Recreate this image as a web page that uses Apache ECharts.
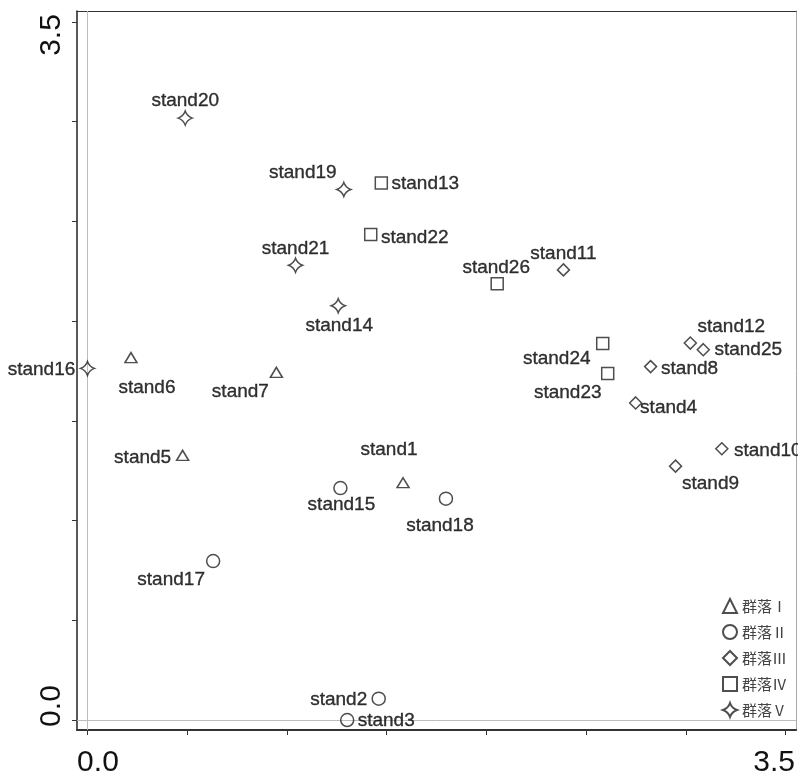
<!DOCTYPE html>
<html>
<head>
<meta charset="utf-8">
<script src="https://cdn.jsdelivr.net/npm/echarts@6/dist/echarts.min.js"></script>
<style>html,body{margin:0;padding:0;background:#fff;}#c{width:798px;height:778px;}</style>
</head>
<body>
<div id="c"></div>
<script>
// ---- data ----
const groupNames = ['群落Ⅰ', '群落Ⅱ', '群落Ⅲ', '群落Ⅳ', '群落Ⅴ'];

const g1Names = ['stand1', 'stand5', 'stand6', 'stand7'];
const g1X = [1.582, 0.477, 0.218, 0.947];
const g1Y = [1.190, 1.327, 1.817, 1.743];

const g2Names = ['stand2', 'stand3', 'stand15', 'stand17', 'stand18'];
const g2X = [1.460, 1.302, 1.268, 0.630, 1.797];
const g2Y = [0.107, 0.000, 1.163, 0.797, 1.110];

const g3Names = ['stand4', 'stand8', 'stand9', 'stand10', 'stand11', 'stand12', 'stand25'];
const g3X = [2.748, 2.823, 2.948, 3.180, 2.386, 3.022, 3.087];
const g3Y = [1.590, 1.772, 1.273, 1.360, 2.257, 1.890, 1.857];

const g4Names = ['stand13', 'stand22', 'stand23', 'stand24', 'stand26'];
const g4X = [1.473, 1.420, 2.608, 2.583, 2.054];
const g4Y = [2.693, 2.435, 1.738, 1.888, 2.188];

const g5Names = ['stand14', 'stand16', 'stand19', 'stand20', 'stand21'];
const g5X = [1.257, 0.000, 1.285, 0.490, 1.043];
const g5Y = [2.077, 1.763, 2.660, 3.018, 2.280];

const tickValues = [0, 0.5, 1, 1.5, 2, 2.5, 3, 3.5];
const tickLabelValues = [0, 3.5];

// ---- styling (label placement relative to point, px) ----
const labelOffsets = {
  stand1: [-14, -33], stand5: [-40, 2], stand6: [16, 30], stand7: [-36, 19],
  stand2: [-40, 1], stand3: [39, 1], stand15: [1, 17], stand17: [-42, 19], stand18: [-6, 27],
  stand4: [33, 5], stand8: [39, 2], stand9: [35, 18], stand10: [46, 2], stand11: [0, -16],
  stand12: [41, -16], stand25: [45, 0],
  stand13: [44, 1], stand22: [44, 3], stand23: [-40, 19], stand24: [-46, 15], stand26: [-1, -16],
  stand14: [1, 20], stand16: [-46, 1], stand19: [-41, -17], stand20: [0, -17], stand21: [0, -17]
};

const starPath = 'path://M0,-10 Q2.6,-2.6 10,0 Q2.6,2.6 0,10 Q-2.6,2.6 -10,0 Q-2.6,-2.6 0,-10 Z';
const symbols = ['triangle', 'circle', 'diamond', 'rect', starPath];
const symbolSizes = [[12, 10], 13, [12, 12], 12, 14];

const groups = [
  [g1Names, g1X, g1Y], [g2Names, g2X, g2Y], [g3Names, g3X, g3Y],
  [g4Names, g4X, g4Y], [g5Names, g5X, g5Y]
];

const strokeColor = '#222';

const series = groups.map(function (g, gi) {
  const names = g[0], xs = g[1], ys = g[2];
  return {
    type: 'scatter',
    name: groupNames[gi],
    symbol: symbols[gi],
    symbolSize: symbolSizes[gi],
    itemStyle: { color: 'rgba(255,255,255,0)', borderColor: strokeColor, borderWidth: 1.5 },
    emphasis: { disabled: true },
    data: names.map(function (n, i) {
      return {
        name: n,
        value: [xs[i], ys[i]],
        label: {
          show: true,
          position: 'inside',
          offset: labelOffsets[n],
          formatter: n,
          color: '#000',
          textBorderWidth: 0.35,
          textBorderColor: '#000',
          fontSize: 19,
          fontFamily: 'Liberation Sans, Arial, sans-serif'
        }
      };
    }),
    z: 5
  };
});

series.push({
  type: 'scatter',
  name: '_ref',
  data: [],
  silent: true,
  markLine: {
    silent: true,
    symbol: ['none', 'none'],
    label: { show: false },
    lineStyle: { color: '#bdbdbd', width: 1, type: 'solid' },
    data: [{ xAxis: 0 }, { yAxis: 0 }],
    z: 1
  }
});

const x0 = 87.5, y0 = 722, ppu = 200;
const gridLeft = 77, gridTop = 11, gridW = 721, gridH = 721;
const xMin = (gridLeft - x0) / ppu, xMax = (gridLeft + gridW - x0) / ppu;
const yMax = (y0 - gridTop) / ppu, yMin = (y0 - (gridTop + gridH)) / ppu;

function fmt(v) { return (Math.round(v * 10) / 10).toFixed(1); }

const chart = echarts.init(document.getElementById('c'), null, { renderer: 'canvas' });
chart.setOption({
  animation: false,
  backgroundColor: '#fff',
  grid: { left: gridLeft, top: gridTop, width: gridW, height: gridH, containLabel: false },
  legend: {
    data: groupNames,
    orient: 'vertical',
    left: 717,
    top: 593,
    itemWidth: 14,
    itemHeight: 14,
    itemGap: 10,
    textStyle: { color: '#444', fontSize: 15, fontFamily: 'Noto Sans CJK SC, sans-serif' },
    selectedMode: false
  },
  xAxis: [{
    type: 'value', min: xMin, max: xMax,
    splitLine: { show: false },
    axisLine: { show: true, onZero: false, lineStyle: { color: '#333', width: 2 } },
    axisTick: { show: true, customValues: tickValues, length: 5, lineStyle: { color: '#333', width: 1 } },
    axisLabel: {
      show: true, customValues: tickLabelValues, margin: 18,
      formatter: function (v) { return v < 1 ? '{l|' + fmt(v) + '}' : '{r|' + fmt(v) + '}'; },
      rich: {
        l: { fontSize: 30, color: '#111', fontFamily: 'Liberation Sans, Arial, sans-serif', padding: [0, 0, 0, 21] },
        r: { fontSize: 30, color: '#111', fontFamily: 'Liberation Sans, Arial, sans-serif', padding: [0, 23, 0, 0] }
      }
    }
  }, {
    type: 'value', position: 'top', min: xMin, max: xMax,
    splitLine: { show: false }, axisTick: { show: false }, axisLabel: { show: false },
    axisLine: { show: true, onZero: false, lineStyle: { color: '#333', width: 1.2 } }
  }],
  yAxis: [{
    type: 'value', min: yMin, max: yMax,
    splitLine: { show: false },
    axisLine: { show: true, onZero: false, lineStyle: { color: '#222', width: 1.5 } },
    axisTick: { show: true, customValues: tickValues, length: 5, lineStyle: { color: '#333', width: 1 } },
    axisLabel: {
      show: true, customValues: tickLabelValues, rotate: 90, margin: 10,
      formatter: function (v) { return v < 1 ? '{l|' + fmt(v) + '}' : '{r|' + fmt(v) + '}'; },
      rich: {
        l: { fontSize: 30, color: '#111', fontFamily: 'Liberation Sans, Arial, sans-serif', padding: [0, 0, 0, 28] },
        r: { fontSize: 30, color: '#111', fontFamily: 'Liberation Sans, Arial, sans-serif', padding: [0, 26, 0, 0] }
      }
    }
  }, {
    type: 'value', position: 'right', min: yMin, max: yMax,
    splitLine: { show: false }, axisTick: { show: false }, axisLabel: { show: false },
    axisLine: { show: true, onZero: false, lineStyle: { color: '#aaa', width: 1 } }
  }],
  series: series
});
</script>
</body>
</html>
